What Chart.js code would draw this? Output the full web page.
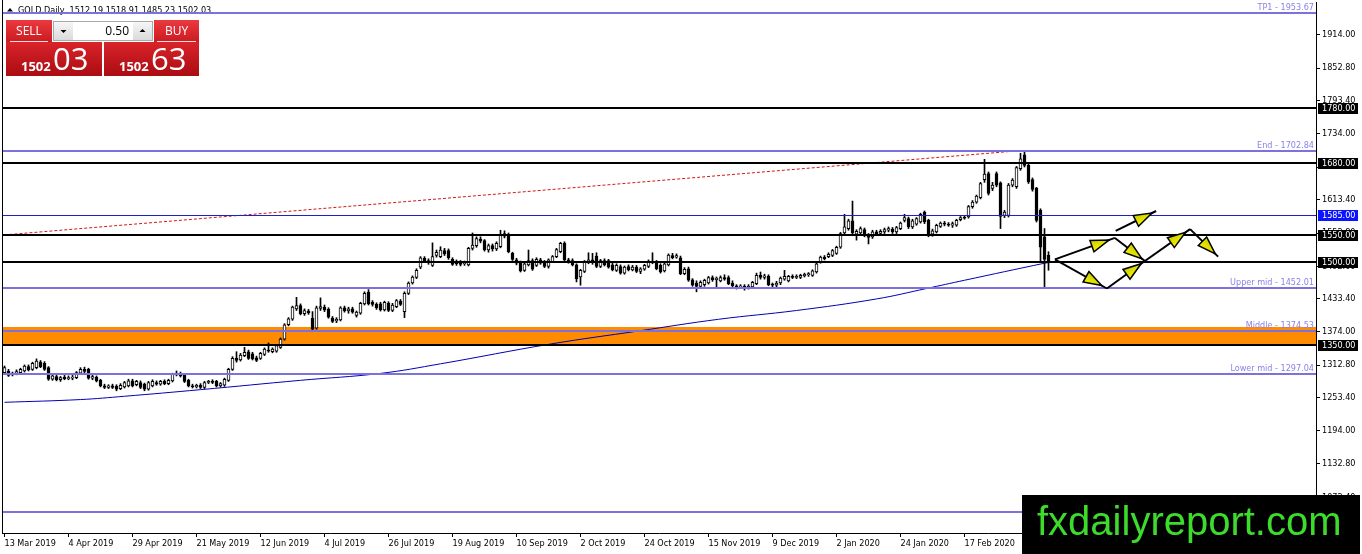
<!DOCTYPE html>
<html>
<head>
<meta charset="utf-8">
<title>GOLD Daily</title>
<script src="https://cdn.jsdelivr.net/npm/chart.js@4.4.1/dist/chart.umd.min.js"></script>
<style>
  html, body { margin: 0; padding: 0; background: #fff; }
  #chart { display: block; }
</style>
</head>
<body>
<canvas id="chart" width="1362" height="554"></canvas>
<script>
// GOLD daily candles, 13 Mar 2019 .. mid Mar 2020

const symbol = "GOLD";
const period = "Daily";

const opens = [
  1299,1302,1295,1297,1299,1302,1310,1305,1308,1318,
  1316,1308,1287,1292,1286,1291,1288,1289,1290,1298,
  1305,1305,1289,1291,1285,1275,1272,1275,1274,1270,
  1273,1275,1284,1277,1281,1278,1269,1275,1281,1278,
  1283,1279,1284,1296,1297,1295,1285,1275,1273,1276,
  1272,1281,1283,1283,1275,1276,1285,1305,1325,1322,
  1330,1337,1333,1326,1325,1332,1340,1337,1338,1345,
  1360,1386,1396,1415,1421,1406,1411,1398,1380,1416,
  1418,1414,1398,1393,1395,1417,1411,1415,1403,1407,
  1424,1445,1427,1423,1424,1413,1425,1412,1419,1429,
  1410,1443,1462,1472,1491,1507,1503,1494,1512,1510,
  1521,1521,1505,1497,1501,1497,1495,1525,1530,1542,
  1539,1522,1530,1524,1528,1547,1550,1516,1504,1500,
  1485,1495,1503,1494,1504,1500,1492,1501,1510,1519,
  1534,1504,1503,1495,1473,1483,1500,1504,1511,1492,
  1503,1503,1495,1485,1492,1480,1492,1486,1491,1483,
  1487,1492,1502,1500,1494,1484,1495,1512,1509,1508,
  1479,1488,1468,1462,1456,1459,1462,1472,1468,1466,
  1472,1472,1462,1457,1454,1456,1453,1455,1461,1476,
  1472,1474,1460,1458,1462,1469,1466,1474,1472,1472,
  1475,1477,1476,1482,1500,1509,1510,1512,1516,1527,
  1553,1561,1575,1551,1553,1559,1549,1546,1555,1552,
  1555,1558,1560,1555,1561,1576,1579,1564,1569,1573,
  1591,1576,1551,1555,1565,1571,1569,1567,1567,1577,
  1581,1582,1601,1609,1617,1650,1661,1634,1661,1644,
  1585,1585,1640,1637,1670,1695,1676,1650,1634,1594,
  1546,1512.19
];

const highs = [
  1311,1305,1300,1304,1307,1313,1313,1318,1324,1321,
  1319,1310,1295,1295,1292,1294,1293,1294,1301,1308,
  1309,1307,1295,1293,1287,1278,1277,1278,1277,1279,
  1283,1287,1287,1285,1284,1280,1283,1286,1284,1285,
  1286,1287,1298,1302,1300,1297,1287,1278,1278,1279,
  1283,1285,1286,1285,1281,1289,1307,1328,1337,1334,
  1345,1340,1336,1329,1336,1344,1353,1344,1350,1362,
  1388,1399,1420,1436,1424,1415,1414,1410,1420,1435,
  1422,1417,1401,1399,1419,1420,1418,1418,1411,1427,
  1446,1450,1430,1426,1427,1429,1428,1425,1432,1432,
  1446,1464,1475,1488,1510,1510,1506,1535,1522,1528,
  1525,1524,1508,1504,1503,1502,1527,1553,1546,1546,
  1541,1533,1533,1537,1558,1557,1553,1518,1507,1502,
  1500,1522,1506,1508,1507,1503,1506,1512,1525,1536,
  1537,1507,1506,1497,1487,1503,1517,1516,1517,1505,
  1506,1505,1498,1497,1495,1493,1495,1494,1494,1490,
  1496,1504,1517,1503,1497,1499,1515,1516,1515,1511,
  1490,1491,1470,1466,1466,1469,1474,1475,1473,1475,
  1477,1475,1466,1459,1459,1459,1459,1465,1480,1482,
  1478,1477,1462,1465,1473,1485,1476,1477,1477,1478,
  1480,1481,1486,1499,1511,1512,1517,1523,1529,1554,
  1587,1578,1611,1559,1564,1562,1552,1558,1558,1559,
  1562,1564,1563,1565,1573,1587,1582,1578,1581,1589,
  1593,1578,1560,1569,1573,1574,1572,1573,1578,1583,
  1584,1603,1612,1622,1645,1687,1664,1645,1664,1646,
  1594,1643,1652,1674,1698,1703,1679,1653,1636,1597,
  1561,1518.91
];

const lows = [
  1296,1292,1293,1295,1297,1300,1302,1303,1306,1308,
  1303,1285,1285,1284,1283,1286,1286,1286,1288,1296,
  1299,1287,1286,1282,1273,1270,1270,1270,1266,1268,
  1271,1273,1273,1275,1270,1266,1267,1273,1276,1276,
  1277,1277,1282,1293,1291,1281,1273,1271,1271,1270,
  1270,1279,1279,1273,1273,1274,1283,1303,1318,1320,
  1328,1323,1322,1319,1323,1330,1336,1335,1336,1343,
  1358,1384,1394,1412,1404,1403,1405,1376,1378,1412,
  1410,1398,1390,1390,1393,1409,1407,1407,1400,1405,
  1422,1422,1420,1414,1411,1411,1410,1410,1417,1421,
  1399,1441,1460,1470,1488,1499,1496,1492,1509,1508,
  1512,1505,1494,1494,1493,1494,1493,1522,1527,1535,
  1520,1518,1520,1521,1526,1544,1517,1503,1495,1482,
  1483,1493,1485,1492,1496,1490,1489,1499,1508,1517,
  1502,1498,1493,1464,1458,1481,1497,1496,1490,1490,
  1493,1489,1484,1483,1478,1478,1484,1484,1481,1479,
  1485,1490,1497,1486,1480,1482,1493,1506,1507,1477,
  1477,1465,1456,1446,1453,1456,1460,1465,1455,1464,
  1467,1459,1455,1451,1452,1449,1451,1452,1459,1469,
  1469,1457,1455,1455,1459,1467,1464,1470,1470,1470,
  1473,1474,1474,1480,1498,1504,1508,1510,1514,1525,
  1550,1558,1548,1540,1550,1546,1533,1543,1548,1549,
  1552,1555,1552,1552,1559,1573,1561,1561,1567,1571,
  1570,1546,1547,1553,1563,1566,1565,1563,1565,1575,
  1578,1580,1598,1607,1615,1645,1622,1630,1637,1561,
  1581,1582,1637,1634,1667,1673,1643,1629,1573,1500,
  1453,1485.23
];

const closes = [
  1308,1294,1298,1301,1305,1311,1304,1316,1320,1310,
  1305,1287,1293,1286,1290,1288,1290,1291,1299,1305,
  1301,1289,1292,1284,1275,1272,1275,1272,1269,1276,
  1281,1284,1275,1283,1272,1269,1281,1283,1278,1283,
  1279,1285,1296,1298,1293,1283,1275,1273,1276,1272,
  1281,1283,1281,1275,1279,1287,1305,1325,1321,1331,
  1336,1325,1324,1321,1334,1342,1338,1342,1348,1360,
  1386,1397,1418,1421,1406,1412,1408,1378,1417,1419,
  1413,1400,1392,1396,1417,1411,1415,1409,1409,1425,
  1443,1424,1423,1417,1413,1427,1412,1422,1430,1423,
  1443,1462,1473,1485,1508,1502,1499,1510,1518,1522,
  1515,1508,1496,1501,1496,1499,1525,1531,1543,1538,
  1522,1530,1524,1534,1549,1552,1519,1505,1498,1484,
  1497,1503,1487,1505,1498,1492,1504,1510,1523,1534,
  1504,1501,1495,1470,1485,1501,1504,1499,1492,1503,
  1495,1491,1486,1494,1480,1491,1486,1491,1483,1488,
  1494,1502,1499,1488,1482,1497,1513,1508,1512,1479,
  1487,1467,1458,1456,1463,1467,1472,1468,1471,1472,
  1469,1461,1457,1454,1457,1452,1456,1463,1476,1472,
  1475,1459,1458,1462,1471,1474,1474,1472,1474,1476,
  1478,1479,1484,1497,1509,1506,1514,1521,1527,1552,
  1564,1575,1553,1556,1561,1549,1545,1555,1551,1556,
  1559,1561,1555,1563,1571,1581,1564,1575,1579,1587,
  1573,1549,1557,1567,1571,1569,1567,1570,1576,1581,
  1580,1601,1609,1620,1643,1660,1625,1640,1640,1583,
  1591,1640,1649,1672,1688,1676,1646,1632,1576,1527,
  1505,1502.03
];

// time axis labels (every 16 bars)
const tickBars = [0, 16, 32, 48, 64, 80, 96, 112, 128, 144, 160, 176, 192, 208, 224, 240];
const tickDates = [
  "13 Mar 2019", "4 Apr 2019", "29 Apr 2019", "21 May 2019", "12 Jun 2019",
  "4 Jul 2019", "26 Jul 2019", "19 Aug 2019", "10 Sep 2019", "2 Oct 2019",
  "24 Oct 2019", "15 Nov 2019", "9 Dec 2019", "2 Jan 2020", "24 Jan 2020", "17 Feb 2020"
];
const yTicks = [1914.0, 1852.8, 1793.4, 1734.0, 1672.8, 1613.4, 1552.8, 1492.0,
  1433.4, 1374.0, 1312.8, 1253.4, 1194.0, 1132.8, 1072.4];

// slow moving average (read at a few bars)
const maBars = [0, 19, 30, 49, 74, 94, 109, 136.5, 158.75, 178.5, 198, 218, 230.5, 240, 260, 261];
const maValues = [1245, 1250, 1256, 1268, 1285, 1297.6, 1315, 1351, 1375, 1396, 1412, 1433, 1452, 1467, 1498, 1499];

// red dashed trendline
const trendBars = [0, 254];
const trendValues = [1549.5, 1702.84];

// drawn objects
const blackLevels = [1780, 1680, 1550, 1500, 1350];
const blueLevels = [1585];
const fiboNames = ["TP1", "End", "Upper mid", "Middle", "Lower mid", "Start"];
const fiboValues = [1953.67, 1702.84, 1452.01, 1374.53, 1297.04, 1046.22];
const zoneBand = [1350, 1382];

// projected path arrows [bar, price]
const arrowFrom = [[262.6, 1505], [277.6, 1544], [285.1, 1502], [296.4, 1560], [262.6, 1505], [275.6, 1452], [277.8, 1557]];
const arrowTo = [[277.6, 1544], [285.1, 1502], [296.4, 1560], [303.4, 1510], [275.6, 1452], [285.1, 1502], [287.9, 1593]];

// one-click trading panel
const bidPrice = 1502.03;
const askPrice = 1502.63;
const lotSize = 0.5;

const FONT = "'DejaVu Sans Condensed', 'Liberation Sans', sans-serif";
const Y_MIN = 1007.3;
const Y_MAX = 1973.1;

const n = opens.length;
const last = n - 1;

const wickData = opens.map((o, i) => ({
  x: i,
  y: [Math.min(lows[i], o, closes[i]), Math.max(highs[i], o, closes[i])],
}));
const bodyData = opens.map((o, i) => ({ x: i, y: [o, closes[i]] }));
const bodyColors = opens.map((o, i) => (closes[i] >= o ? "#ffffff" : "#000000"));

function drawArrowHead(ctx, tx, ty, ang) {
  const len = 18, half = 6;
  const bx = tx - Math.cos(ang) * len, by = ty - Math.sin(ang) * len;
  const nx = -Math.sin(ang) * half, ny = Math.cos(ang) * half;
  const g = ctx.createLinearGradient(bx + nx, by + ny, bx - nx, by - ny);
  g.addColorStop(0, "#f4f400");
  g.addColorStop(1, "#c8c800");
  ctx.beginPath();
  ctx.moveTo(tx, ty);
  ctx.lineTo(bx + nx, by + ny);
  ctx.lineTo(bx - nx, by - ny);
  ctx.closePath();
  ctx.fillStyle = g;
  ctx.fill();
  ctx.lineWidth = 1.5;
  ctx.strokeStyle = "#000";
  ctx.stroke();
}

function drawPanel(ctx) {
  const grad = (y0, h, c1, c2) => {
    const g = ctx.createLinearGradient(0, y0, 0, y0 + h);
    g.addColorStop(0, c1);
    g.addColorStop(1, c2);
    return g;
  };
  ctx.save();
  // sell / buy buttons
  ctx.fillStyle = grad(20, 22, "#ea3a3f", "#cc1a20");
  ctx.fillRect(6, 20, 46, 22);
  ctx.fillRect(154, 20, 45, 22);
  // price boxes
  ctx.fillStyle = grad(42, 34, "#d9232a", "#aa0c12");
  ctx.fillRect(6, 42, 96, 34);
  ctx.fillRect(104, 42, 95, 34);
  ctx.fillStyle = "rgba(255,255,255,0.85)";
  ctx.fillRect(10, 41, 38, 1);
  ctx.fillRect(157, 41, 39, 1);

  ctx.fillStyle = "#fff";
  ctx.font = "12px 'Open Sans'";
  ctx.textAlign = "center";
  ctx.textBaseline = "alphabetic";
  ctx.fillText("SELL", 29, 35);
  ctx.fillText("BUY", 176.5, 35);

  // lot field
  ctx.fillStyle = "#fff";
  ctx.fillRect(53, 21, 100, 20);
  ctx.strokeStyle = "#aaaaaa";
  ctx.lineWidth = 1;
  ctx.strokeRect(53.5, 21.5, 99, 19);
  ctx.fillStyle = grad(22, 18, "#f6f6f6", "#dadada");
  ctx.fillRect(54, 22, 19, 18);
  ctx.fillRect(133, 22, 19, 18);
  ctx.fillStyle = "#000";
  ctx.beginPath();
  ctx.moveTo(60.5, 30); ctx.lineTo(66.5, 30); ctx.lineTo(63.5, 33); ctx.closePath(); ctx.fill();
  ctx.beginPath();
  ctx.moveTo(139.5, 32); ctx.lineTo(145.5, 32); ctx.lineTo(142.5, 29); ctx.closePath(); ctx.fill();
  ctx.textAlign = "right";
  ctx.fillText(lotSize.toFixed(2), 129, 35);

  // quotes
  const [bidBig, bidPip] = bidPrice.toFixed(2).split(".");
  const [askBig, askPip] = askPrice.toFixed(2).split(".");
  ctx.fillStyle = "#fff";
  ctx.textAlign = "left";
  ctx.font = "bold 13px 'Open Sans'";
  ctx.fillText(bidBig, 21, 71);
  ctx.fillText(askBig, 119, 71);
  ctx.font = "31px 'Open Sans'";
  ctx.fillText(bidPip, 53, 70);
  ctx.fillText(askPip, 151, 70);
  ctx.restore();
}

const overlayPlugin = {
  id: "overlay",
  beforeDatasetsDraw(chart) {
    const { ctx, chartArea: a, scales: { y } } = chart;
    ctx.save();
    // supply/demand zone
    const top = y.getPixelForValue(zoneBand[1]);
    const bot = y.getPixelForValue(zoneBand[0]);
    ctx.fillStyle = "#ff8c00";
    ctx.fillRect(a.left, top, a.right - a.left, bot - top);
    // header line
    ctx.fillStyle = "#000";
    ctx.beginPath();
    ctx.moveTo(7, 11.5); ctx.lineTo(13, 11.5); ctx.lineTo(10, 8); ctx.closePath(); ctx.fill();
    ctx.font = `9px ${FONT}`;
    ctx.textAlign = "left";
    ctx.textBaseline = "alphabetic";
    const ohlc = [opens[last], highs[last], lows[last], closes[last]].map((v) => v.toFixed(2)).join(" ");
    ctx.fillText(`${symbol},${period}  ${ohlc}`, 18, 13);
    ctx.restore();
  },
  afterDatasetsDraw(chart) {
    const { ctx, chartArea: a, scales: { x, y } } = chart;
    ctx.save();
    ctx.beginPath();
    ctx.rect(a.left, 0, a.right - a.left, a.bottom);
    ctx.clip();

    // fibo levels
    ctx.font = `9px ${FONT}`;
    ctx.textAlign = "right";
    ctx.textBaseline = "alphabetic";
    fiboValues.forEach((v, i) => {
      const yy = Math.round(y.getPixelForValue(v));
      ctx.fillStyle = "#7b72de";
      ctx.fillRect(a.left, yy - 1, a.right - a.left, 2);
      ctx.fillStyle = "#8a82e6";
      ctx.fillText(`${fiboNames[i]} - ${v.toFixed(2)}`, a.right - 2, yy - 3);
    });

    // horizontal levels
    ctx.fillStyle = "#000";
    blackLevels.forEach((v) => {
      const yy = Math.round(y.getPixelForValue(v));
      ctx.fillRect(a.left, yy - 1, a.right - a.left, 2);
    });
    ctx.fillStyle = "#2020c8";
    blueLevels.forEach((v) => {
      const yy = Math.round(y.getPixelForValue(v));
      ctx.fillRect(a.left, yy, a.right - a.left, 1);
    });

    // path arrows
    arrowFrom.forEach((f, i) => {
      const t = arrowTo[i];
      const x1 = x.getPixelForValue(f[0]), y1 = y.getPixelForValue(f[1]);
      const x2 = x.getPixelForValue(t[0]), y2 = y.getPixelForValue(t[1]);
      ctx.strokeStyle = "#000";
      ctx.lineWidth = 2;
      ctx.beginPath();
      ctx.moveTo(x1, y1);
      ctx.lineTo(x2, y2);
      ctx.stroke();
      const ang = Math.atan2(y2 - y1, x2 - x1);
      drawArrowHead(ctx, x1 + (x2 - x1) * 0.9, y1 + (y2 - y1) * 0.9, ang);
    });
    ctx.restore();
  },
  afterDraw(chart) {
    const { ctx, chartArea: a, scales: { y } } = chart;
    ctx.save();
    // left frame line
    ctx.fillStyle = "#000";
    ctx.fillRect(a.left, 0, 1, a.bottom + 1);

    // price labels of levels on the axis
    ctx.font = `9px ${FONT}`;
    ctx.textAlign = "left";
    ctx.textBaseline = "middle";
    const tag = (v, bg) => {
      const yy = Math.round(y.getPixelForValue(v));
      ctx.fillStyle = bg;
      ctx.fillRect(a.right + 2, yy - 5, 40, 11);
      ctx.fillStyle = "#fff";
      ctx.fillText(v.toFixed(2), a.right + 6, yy + 0.5);
    };
    blackLevels.forEach((v) => tag(v, "#000"));
    blueLevels.forEach((v) => tag(v, "#0a14ff"));

    drawPanel(ctx);

    // watermark
    ctx.fillStyle = "#000";
    ctx.fillRect(1022, 495, 338, 59);
    ctx.fillStyle = "#3ddc2c";
    ctx.font = "40px 'Liberation Sans'";
    ctx.textAlign = "left";
    ctx.textBaseline = "alphabetic";
    ctx.fillText("fxdailyreport.com", 1037, 535);
    ctx.restore();
  },
};

const ctx = document.getElementById("chart").getContext("2d");

new Chart(ctx, {
  type: "bar",
  data: {
    datasets: [
      {
        type: "line",
        label: "MA",
        data: maBars.map((b, i) => ({ x: b, y: maValues[i] })),
        borderColor: "#0000b4",
        borderWidth: 1,
        pointRadius: 0,
        tension: 0.4,
        order: 0,
      },
      {
        type: "line",
        label: "Trend",
        data: trendBars.map((b, i) => ({ x: b, y: trendValues[i] })),
        borderColor: "#d01818",
        borderWidth: 1,
        borderDash: [3, 2],
        pointRadius: 0,
        order: 0,
      },
      {
        label: "Wick",
        data: wickData,
        backgroundColor: "#000",
        barThickness: 1,
        grouped: false,
        order: 3,
      },
      {
        label: "Body",
        data: bodyData,
        backgroundColor: bodyColors,
        borderColor: "#000",
        borderWidth: 1,
        borderSkipped: false,
        barThickness: 3,
        minBarLength: 1,
        grouped: false,
        order: 2,
      },
    ],
  },
  options: {
    responsive: false,
    animation: false,
    events: [],
    layout: { padding: { left: 2, top: 2, right: 0, bottom: 0 } },
    plugins: {
      legend: { display: false },
      tooltip: { enabled: false },
    },
    scales: {
      x: {
        type: "linear",
        offset: false,
        min: -0.625,
        max: 327.875,
        afterFit: (s) => { s.height = 21; s.paddingLeft = 0; s.paddingRight = 0; },
        afterBuildTicks: (s) => { s.ticks = tickBars.map((v) => ({ value: v })); },
        grid: { offset: false, drawOnChartArea: false, tickLength: 4, color: "#000" },
        border: { color: "#000" },
        ticks: {
          autoSkip: false,
          maxRotation: 0,
          align: "start",
          padding: 1,
          color: "#000",
          font: { size: 9, family: FONT },
          callback: (v, i) => tickDates[i],
        },
      },
      y: {
        position: "right",
        min: Y_MIN,
        max: Y_MAX,
        afterFit: (s) => { s.width = 46; s.paddingTop = 0; s.paddingBottom = 0; },
        afterBuildTicks: (s) => { s.ticks = yTicks.map((v) => ({ value: v })); },
        grid: { drawOnChartArea: false, tickLength: 4, color: "#000" },
        border: { color: "#000" },
        ticks: {
          autoSkip: false,
          padding: 2,
          color: "#000",
          font: { size: 9, family: FONT },
          callback: (v) => Number(v).toFixed(2),
        },
      },
    },
  },
  plugins: [overlayPlugin],
});
</script>
</body>
</html>
